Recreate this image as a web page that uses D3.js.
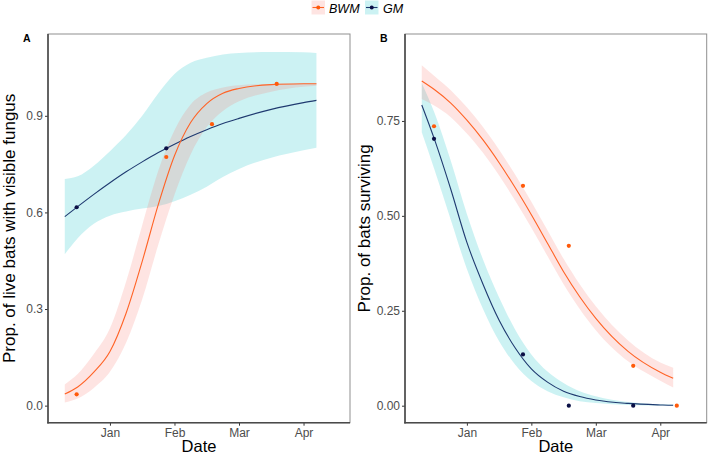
<!DOCTYPE html>
<html><head><meta charset="utf-8">
<script src="https://cdn.jsdelivr.net/npm/d3@7"></script>
<style>
body{margin:0;background:#fff;}
svg{display:block;font-family:"Liberation Sans",Arial,sans-serif;}
</style></head>
<body><svg id="c" width="708" height="455"></svg>
<script>
// ---- data (x = months after 1 Jan: Jan=0, Feb=1, ...) ----
const monthLabels = ["Jan","Feb","Mar","Apr"];
const monthTicks = [0,1,2,3];
const seriesNames = ["BWM","GM"];

const fitT = [-0.7,-0.5,-0.25,0,0.25,0.5,0.75,1.0,1.25,1.5,1.75,2.0,2.5,3.0,3.2];

// Panel A: proportion of live bats with visible fungus
const aBwmFit   = [0.036,0.058,0.104,0.168,0.287,0.448,0.625,0.776,0.879,0.938,0.970,0.985,0.9967,0.9993,0.9996];
const aBwmLo    = [0.010,0.022,0.055,0.105,0.195,0.330,0.50,0.655,0.78,0.865,0.915,0.945,0.975,0.99,0.993];
const aBwmHi    = [0.066,0.098,0.160,0.240,0.385,0.560,0.73,0.855,0.935,0.972,0.988,0.995,0.999,1.0,1.0];
const aGmFit    = [0.587,0.618,0.656,0.692,0.726,0.757,0.786,0.812,0.836,0.857,0.876,0.892,0.920,0.941,0.948];
const aGmLo     = [0.47,0.52,0.565,0.59,0.603,0.612,0.62,0.635,0.655,0.68,0.71,0.735,0.77,0.793,0.801];
const aGmHi     = [0.704,0.712,0.745,0.79,0.84,0.90,0.97,1.03,1.065,1.08,1.09,1.095,1.098,1.097,1.095];
const aBwmObsT  = [-0.516,0.873,1.581,2.584];
const aBwmObs   = [0.035,0.772,0.874,0.999];
const aGmObsT   = [-0.516,0.873];
const aGmObs    = [0.616,0.799];

// Panel B: proportion of bats surviving
const bBwmFit   = [0.855,0.832,0.797,0.752,0.700,0.640,0.574,0.503,0.428,0.353,0.287,0.230,0.143,0.088,0.072];
const bBwmLo    = [0.808,0.790,0.760,0.717,0.666,0.606,0.540,0.469,0.394,0.320,0.255,0.199,0.117,0.066,0.048];
const bBwmHi    = [0.897,0.868,0.831,0.786,0.734,0.674,0.608,0.537,0.462,0.387,0.320,0.262,0.172,0.114,0.100];
const bGmFit    = [0.792,0.70,0.57,0.43,0.32,0.225,0.152,0.097,0.062,0.038,0.024,0.015,0.006,0.002,0.001];
const bGmLo     = [0.72,0.62,0.49,0.36,0.255,0.17,0.108,0.065,0.038,0.022,0.012,0.007,0.002,0.0005,0.0003];
const bGmHi     = [0.85,0.77,0.645,0.505,0.385,0.285,0.20,0.135,0.09,0.06,0.038,0.025,0.01,0.004,0.003];
const bBwmObsT  = [-0.51,0.87,1.581,2.58,3.256];
const bBwmObs   = [0.736,0.579,0.421,0.105,0.0];
const bGmObsT   = [-0.51,0.87,1.581,2.58];
const bGmObs    = [0.703,0.135,0.0,0.0];

const aTicks = [0,0.3,0.6,0.9];
const bTicks = [0,0.25,0.5,0.75];

// ---- styles ----
const col = {
  BWM:{line:"#FF6326", pt:"#FF5A0A", fill:"rgba(248,118,109,0.2)"},
  GM:{line:"#1F3A70", pt:"#0A0F45", fill:"rgba(0,191,196,0.2)"}
};

const svg = d3.select("#c");

function panel(opt){
  const {left,right,top,bottom,yDomain,ticks,fmt,label,ytitle,series} = opt;
  const x = d3.scaleLinear().domain([-0.96,3.72]).range([left,right]);
  const y = d3.scaleLinear().domain(yDomain).range([bottom,top]);
  const g = svg.append("g");
  series.forEach(s=>{
    const d = fitT.map((t,i)=>({t,lo:s.lo[i],hi:s.hi[i]}));
    g.append("path").datum(d)
      .attr("d",d3.area().x(p=>x(p.t)).y0(p=>y(p.lo)).y1(p=>y(p.hi)).curve(d3.curveMonotoneX))
      .attr("fill",col[s.name].fill);
  });
  series.forEach(s=>{
    const d = fitT.map((t,i)=>({t,v:s.fit[i]}));
    g.append("path").datum(d)
      .attr("d",d3.line().x(p=>x(p.t)).y(p=>y(p.v)).curve(d3.curveMonotoneX))
      .attr("fill","none").attr("stroke",col[s.name].line).attr("stroke-width",1.1);
  });
  series.forEach(s=>{
    g.selectAll(null).data(s.obsT.map((t,i)=>({t,v:s.obs[i]}))).enter().append("circle")
      .attr("cx",p=>x(p.t)).attr("cy",p=>y(p.v)).attr("r",2.1).attr("fill",col[s.name].pt);
  });
  g.append("rect").attr("x",left).attr("y",top).attr("width",right-left).attr("height",bottom-top)
    .attr("fill","none").attr("stroke","#8f8f8f").attr("stroke-width",1);
  const ya = g.append("g").attr("transform",`translate(${left},0)`)
    .call(d3.axisLeft(y).tickValues(ticks).tickFormat(fmt).tickSize(3).tickPadding(2));
  const xa = g.append("g").attr("transform",`translate(0,${bottom})`)
    .call(d3.axisBottom(x).tickValues(monthTicks).tickFormat((d,i)=>monthLabels[i]).tickSize(3).tickPadding(3));
  [ya,xa].forEach(a=>{
    a.select(".domain").remove();
    a.selectAll(".tick line").attr("stroke","#333");
    a.selectAll(".tick text").attr("fill","#4d4d4d").style("font-size","12px").style("font-family","Liberation Sans, Arial, sans-serif");
  });
  g.append("line").attr("x1",left).attr("x2",left).attr("y1",top).attr("y2",bottom+0.75).attr("stroke","#4a4a4a").attr("stroke-width",1.6);
  g.append("line").attr("x1",left-0.75).attr("x2",right).attr("y1",bottom).attr("y2",bottom).attr("stroke","#4a4a4a").attr("stroke-width",1.6);
  g.append("text").attr("x",(left+right)/2).attr("y",452).attr("text-anchor","middle")
    .style("font-size","16.5px").attr("fill","#000").text("Date");
  g.append("text").attr("transform",`translate(${opt.ytx},${(top+bottom)/2}) rotate(-90)`)
    .attr("text-anchor","middle").style("font-size","17px").attr("fill","#000").text(ytitle);
  g.append("text").attr("x",opt.lx).attr("y",42).style("font-size","10.5px").style("font-weight","bold").text(label);
}

panel({left:48,right:350,top:34,bottom:422.7,yDomain:[-0.053,1.154],ticks:aTicks,fmt:d3.format(".1f"),
  label:"A",lx:23,ytx:15,ytitle:"Prop. of live bats with visible fungus",
  series:[
    {name:"GM",fit:aGmFit,lo:aGmLo,hi:aGmHi,obsT:aGmObsT,obs:aGmObs},
    {name:"BWM",fit:aBwmFit,lo:aBwmLo,hi:aBwmHi,obsT:aBwmObsT,obs:aBwmObs}
  ]});
panel({left:405,right:706.7,top:34,bottom:422.7,yDomain:[-0.0448,0.979],ticks:bTicks,fmt:d3.format(".2f"),
  label:"B",lx:380,ytx:370,ytitle:"Prop. of bats surviving",
  series:[
    {name:"GM",fit:bGmFit,lo:bGmLo,hi:bGmHi,obsT:bGmObsT,obs:bGmObs},
    {name:"BWM",fit:bBwmFit,lo:bBwmLo,hi:bBwmHi,obsT:bBwmObsT,obs:bBwmObs}
  ]});

// legend
const leg = svg.append("g");
const keyX = [311.5,365];
const txtX = [329,383];
seriesNames.forEach((n,i)=>{
  leg.append("rect").attr("x",keyX[i]).attr("y",0.5).attr("width",13.5).attr("height",14).attr("fill",col[n].fill);
  leg.append("line").attr("x1",keyX[i]+1).attr("x2",keyX[i]+12.5).attr("y1",7.5).attr("y2",7.5).attr("stroke",col[n].line).attr("stroke-width",1.1);
  leg.append("circle").attr("cx",keyX[i]+6.75).attr("cy",7.5).attr("r",2).attr("fill",col[n].pt);
  leg.append("text").attr("x",txtX[i]).attr("y",13).style("font-size","12.5px").style("font-style","italic").attr("fill","#000").text(n);
});
</script></body></html>
